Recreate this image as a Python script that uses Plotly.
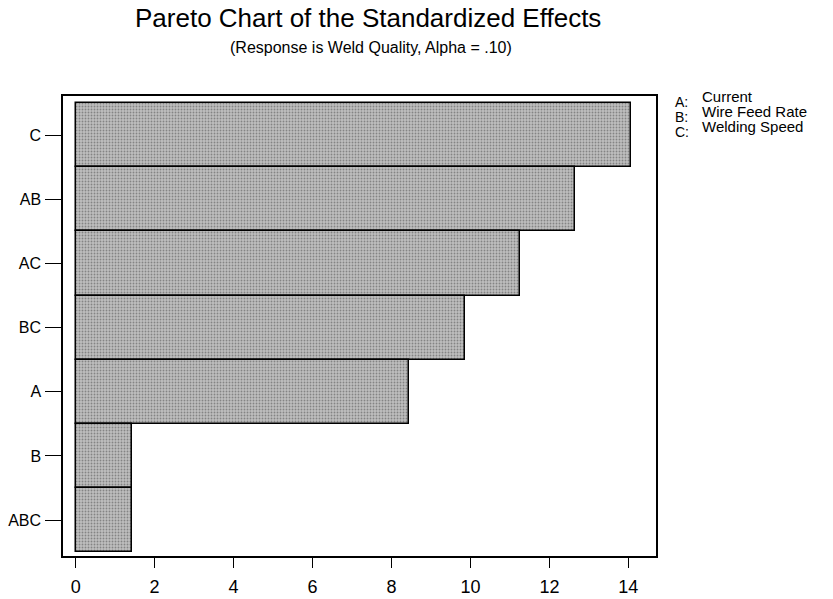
import plotly.graph_objects as go

# Data
effects = ["C", "AB", "AC", "BC", "A", "B", "ABC"]          # top to bottom
std_effects = [14.06, 12.65, 11.25, 9.86, 8.44, 1.42, 1.42]
x_ticks = [0, 2, 4, 6, 8, 10, 12, 14]
legend_keys = ["A:", "B:", "C:"]
legend_names = ["Current", "Wire Feed Rate", "Welding Speed"]

title_text = "Pareto Chart of the Standardized Effects"
subtitle_text = "(Response is Weld Quality, Alpha = .10)"

W, H = 833, 599
ml, mr, mt, mb = 63, 177, 96, 43
pw, ph = W - ml - mr, H - mt - mb

def px_to_paper_x(px):
    return (px - ml) / pw

def px_to_paper_y(py):
    return (H - mb - py) / ph

fig = go.Figure()
fig.add_trace(go.Bar(
    y=effects,
    x=std_effects,
    orientation="h",
    width=1.0,
    marker=dict(
        color="#b3b3b3",
        line=dict(color="black", width=1.5),
        pattern=dict(shape=".", bgcolor="#bebebe", fgcolor="#4a4a4a",
                     size=3, solidity=0.3, fillmode="overlay"),
    ),
    showlegend=False,
))

font_family = "Liberation Sans, Arial, Helvetica, sans-serif"

annotations = [
    dict(text=title_text, x=px_to_paper_x(368), y=px_to_paper_y(18),
         xref="paper", yref="paper", showarrow=False,
         xanchor="center", yanchor="middle",
         font=dict(size=26, color="black", family=font_family)),
    dict(text=subtitle_text, x=px_to_paper_x(371), y=px_to_paper_y(48),
         xref="paper", yref="paper", showarrow=False,
         xanchor="center", yanchor="middle",
         font=dict(size=16, color="black", family=font_family)),
]
for i, (k, n) in enumerate(zip(legend_keys, legend_names)):
    annotations.append(dict(text=k, x=px_to_paper_x(674), y=px_to_paper_y(102 + 15 * i),
                            xref="paper", yref="paper", showarrow=False,
                            xanchor="left", yanchor="middle", borderpad=0,
                            font=dict(size=14, color="black", family=font_family)))
    annotations.append(dict(text=n, x=px_to_paper_x(701), y=px_to_paper_y(96.5 + 15 * i),
                            xref="paper", yref="paper", showarrow=False,
                            xanchor="left", yanchor="middle", borderpad=0,
                            font=dict(size=15, color="black", family=font_family)))

fig.update_layout(
    width=W, height=H,
    margin=dict(l=ml, r=mr, t=mt, b=mb, pad=0, autoexpand=False),
    paper_bgcolor="white", plot_bgcolor="white",
    bargap=0,
    font=dict(family=font_family, color="black"),
    annotations=annotations,
    xaxis=dict(
        range=[-0.32, 14.7],
        tickvals=x_ticks,
        ticktext=[str(v) for v in x_ticks],
        ticks="outside", ticklen=10, tickwidth=1.2, tickcolor="black",
        ticklabelstandoff=4,
        automargin=False,
        showline=True, linecolor="black", linewidth=1.5, mirror=True,
        showgrid=False, zeroline=False,
        tickfont=dict(size=18, color="black"),
    ),
    yaxis=dict(
        type="category",
        categoryorder="array",
        categoryarray=effects[::-1],
        range=[-0.56, 6.61],
        ticks="outside", ticklen=16, tickwidth=1.2, tickcolor="black",
        ticklabelstandoff=1,
        automargin=False,
        showline=True, linecolor="black", linewidth=1.5, mirror=True,
        showgrid=False, zeroline=False,
        tickfont=dict(size=16, color="black"),
    ),
)

fig.write_html("out.html",
               config={"displayModeBar": False},
               post_script="document.body.style.margin='0px';document.body.style.overflow='hidden';")
